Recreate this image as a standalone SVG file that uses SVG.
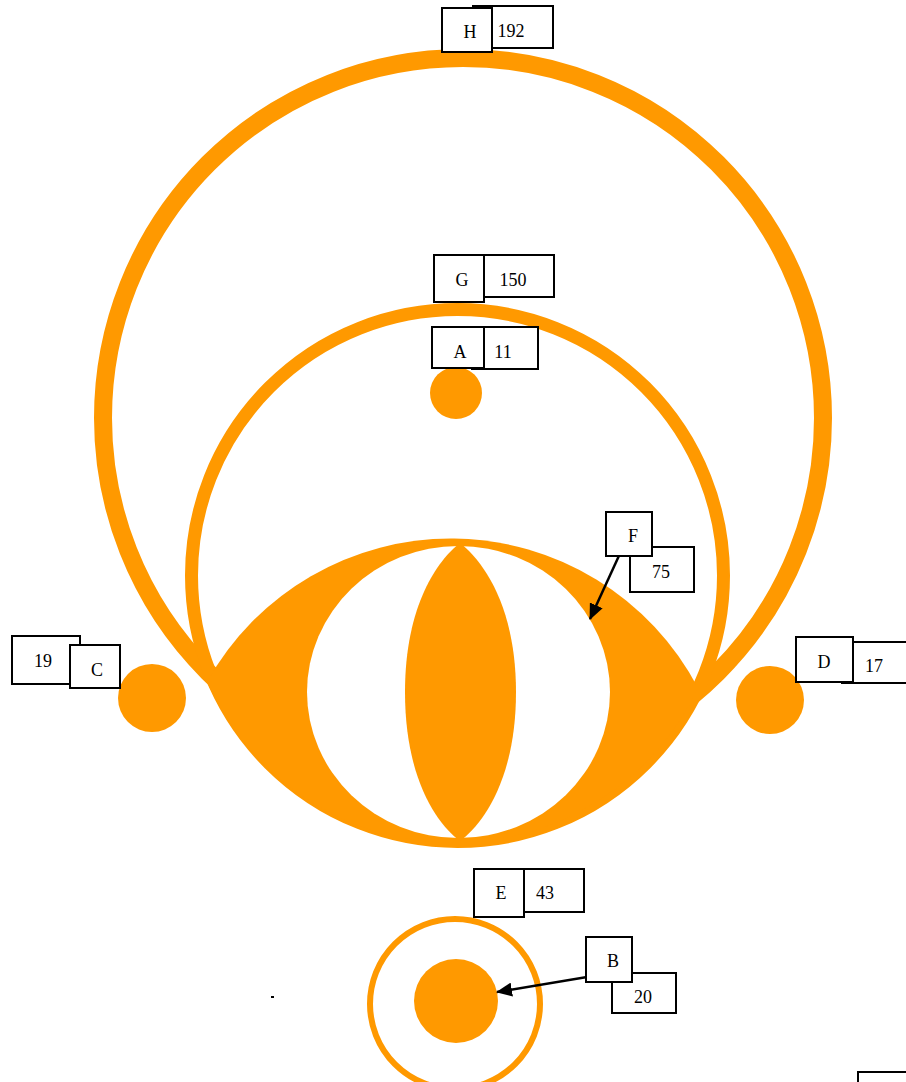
<svg xmlns="http://www.w3.org/2000/svg" width="906" height="1082" viewBox="0 0 906 1082">
<style>
.ring{fill:none;stroke:#ff9900}
.fill{fill:#ff9900;stroke:none}
.box{fill:#ffffff;stroke:#000000;stroke-width:2}
.t{font-family:"Liberation Serif","Times New Roman",serif;font-size:18px;fill:#000000;text-anchor:middle}
.edge{stroke:#000000;stroke-width:2.5;fill:none}
</style>
<defs>
<marker id="ahb" markerWidth="16" markerHeight="14" refX="15" refY="7" orient="auto" markerUnits="userSpaceOnUse" viewBox="0 0 16 14">
<path d="M0,0 L16,7 L0,14 z" fill="#000000"/>
</marker>
</defs>
<rect width="906" height="1082" fill="#ffffff"/>
<g id="H-shape"><circle class="ring" cx="463" cy="418" r="360" stroke-width="18"/></g>
<g id="G-shape"><circle class="ring" cx="457.5" cy="575.5" r="266" stroke-width="13"/></g>
<g id="F-shape">
<path class="fill" d="M207,682 A279,279 0 0 1 698,688 A270,270 0 0 1 207,682 Z"/>
<ellipse cx="458.5" cy="692" rx="151.5" ry="146" fill="#ffffff"/>
<path class="fill" d="M460,543 C482,560 516,605 516,692 C516,780 482,825 460,841 C438,825 405,780 405,692 C405,605 438,560 460,543 Z"/>
</g>
<g id="A-shape"><circle class="fill" cx="456" cy="393" r="26"/></g>
<g id="C-shape"><circle class="fill" cx="152" cy="698" r="34"/></g>
<g id="D-shape"><circle class="fill" cx="770" cy="700" r="34"/></g>
<g id="E-shape"><circle class="ring" cx="455" cy="1004" r="85" stroke-width="6"/></g>
<g id="B-shape"><circle class="fill" cx="456" cy="1001" r="42"/></g>
<rect x="271" y="996" width="3" height="2" fill="#000000"/>
<g id="connectors">
<line class="edge" x1="623" y1="547" x2="590" y2="619" marker-end="url(#ahb)"/>
<line class="edge" x1="605" y1="974" x2="497" y2="992" marker-end="url(#ahb)"/>
</g>
<g id="H-label">
<rect class="box" x="473" y="6" width="80" height="42"/>
<text class="t" x="511" y="37">192</text>
<rect class="box" x="442" y="8" width="50" height="44"/>
<text class="t" x="470" y="38">H</text>
</g>
<g id="G-label">
<rect class="box" x="475" y="255" width="79" height="42"/>
<text class="t" x="513" y="286">150</text>
<rect class="box" x="434" y="255" width="50" height="47"/>
<text class="t" x="462" y="286">G</text>
</g>
<g id="A-label">
<rect class="box" x="472" y="327" width="66" height="42"/>
<text class="t" x="503" y="358">11</text>
<rect class="box" x="432" y="327" width="52" height="41"/>
<text class="t" x="460" y="358">A</text>
</g>
<g id="F-label">
<rect class="box" x="630" y="547" width="64" height="45"/>
<text class="t" x="661" y="578">75</text>
<rect class="box" x="606" y="512" width="46" height="44"/>
<text class="t" x="633" y="542">F</text>
</g>
<g id="C-label">
<rect class="box" x="12" y="636" width="68" height="48"/>
<text class="t" x="43" y="667">19</text>
<rect class="box" x="70" y="645" width="50" height="43"/>
<text class="t" x="97" y="676">C</text>
</g>
<g id="D-label">
<rect class="box" x="842" y="642" width="80" height="41"/>
<text class="t" x="874" y="672">17</text>
<rect class="box" x="796" y="637" width="57" height="45"/>
<text class="t" x="824" y="668">D</text>
</g>
<g id="E-label">
<rect class="box" x="523" y="869" width="61" height="43"/>
<text class="t" x="545" y="899">43</text>
<rect class="box" x="474" y="869" width="50" height="48"/>
<text class="t" x="501" y="899">E</text>
</g>
<g id="B-label">
<rect class="box" x="612" y="973" width="64" height="40"/>
<text class="t" x="643" y="1003">20</text>
<rect class="box" x="586" y="937" width="46" height="45"/>
<text class="t" x="613" y="967">B</text>
</g>
<g id="extra-label">
<rect class="box" x="858" y="1072" width="60" height="40"/>
</g>
</svg>
